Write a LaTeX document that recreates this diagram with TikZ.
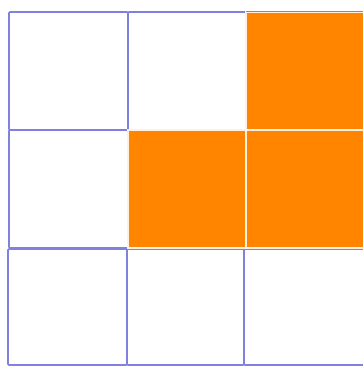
\documentclass[tikz,border=0pt]{standalone}
\definecolor{gridblue}{RGB}{128,128,222}
\definecolor{cellorange}{RGB}{255,133,0}
\tikzset{
  whitecell/.style={draw=gridblue, line width=1.6pt, fill=white, rounded corners=1pt},
  orangecell/.style={draw=white!88!orange, line width=2.2pt, fill=cellorange},
}
\begin{document}
\begin{tikzpicture}[x=1pt,y=-1pt]
\useasboundingbox (0,0) rectangle (363,367);
% white cells
\draw[whitecell] (9,12) rectangle (128,130);
\draw[whitecell] (128,12) rectangle (246,130);
\draw[whitecell] (9,130) rectangle (128,248);
\draw[whitecell] (8,249) rectangle (127,365);
\draw[whitecell] (127,249) rectangle (244,365);
\draw[whitecell] (244,249) rectangle (365,365);
% orange cells
\draw[orangecell] (246,12) rectangle (366,130);
\draw[orangecell] (128,130) rectangle (246,248);
\draw[orangecell] (246,130) rectangle (366,248);
\draw[gridblue, line width=1.2pt] (246,11.5) -- (365,11.5);
\end{tikzpicture}
\end{document}
